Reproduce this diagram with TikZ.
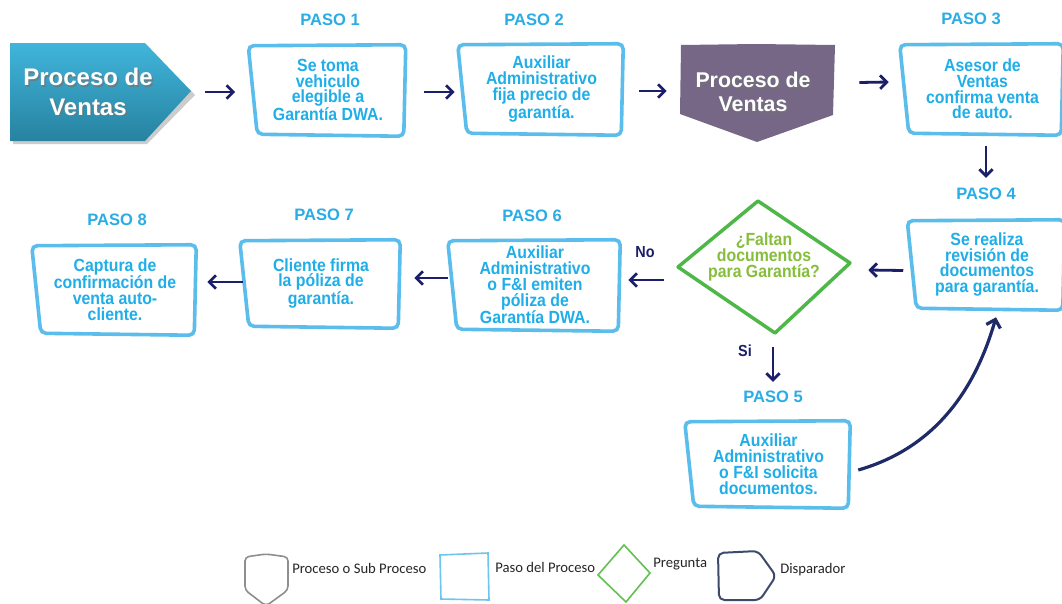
\documentclass[tikz,border=0pt]{standalone}
\usepackage{fontspec}
\setmainfont{Liberation Sans}
\newfontfamily\stepfont[FakeStretch=0.9]{Liberation Sans}
\newfontfamily\legfont{Carlito}
\usetikzlibrary{arrows.meta,calc}
\definecolor{stepline}{HTML}{5BBDEB}
\definecolor{steptext}{HTML}{1FAEE8}
\definecolor{pasotext}{HTML}{2AACE4}
\definecolor{navy}{HTML}{1B1E6B}
\definecolor{curvenavy}{HTML}{1E2B66}
\definecolor{procpurple}{HTML}{766787}
\definecolor{trigtop}{HTML}{40B5DB}
\definecolor{trigbot}{HTML}{2782A0}
\definecolor{qgreen}{HTML}{4DB848}
\definecolor{qtext}{HTML}{86BE3C}
\definecolor{leggray}{HTML}{8E8E8E}
\definecolor{legblue}{HTML}{6EC6EE}
\definecolor{leggreen}{HTML}{63C151}
\definecolor{legnavy}{HTML}{3E4B68}
\tikzset{
  stepbox/.style={inner sep=0pt, align=center, text=steptext,
    font=\stepfont\bfseries\fontsize{13.2}{11.85}\selectfont},
  sketch/.style={draw=stepline, line width=2.7pt, rounded corners=4pt},
  pasolabel/.style={text=pasotext, inner sep=0pt, font=\bfseries\fontsize{12.4}{14}\selectfont},
  flow/.style={draw=navy, line width=2.1pt, -{Straight Barb[length=5pt,width=10pt]}},
  curveflow/.style={draw=curvenavy, line width=2.4pt, -{Straight Barb[length=5.5pt,width=11pt]}},
  anchorbox/.style={inner sep=0pt, draw=none},
  bigtext/.style={text=white, align=center, inner sep=0pt},
  shadowtext/.style={text=black!55, align=center, inner sep=0pt, opacity=0.7},
  qtextstyle/.style={text=qtext, align=center, inner sep=0pt,
    font=\stepfont\bfseries\fontsize{13.2}{11.85}\selectfont},
  decision/.style={text=navy, inner sep=0pt, font=\stepfont\bfseries\fontsize{12}{14}\selectfont},
  legtext/.style={text=black!85, inner sep=0pt, anchor=west, font=\legfont\fontsize{11}{13}\selectfont},
}
\newcommand{\sketchbox}[1]{%
  \draw[sketch] ([shift={(-5,-1)}]#1.north west) -- ([shift={(3,-2)}]#1.north east)
    -- ([shift={(1,3)}]#1.south east) -- ([shift={(4,1)}]#1.south west) -- cycle;}
\begin{document}
\begin{tikzpicture}[x=0.75pt,y=-0.75pt]
\useasboundingbox (0,0) rectangle (1062,603);
\fill[white] (0,0) rectangle (1062,603);

% ---------- trigger (Disparador)
\node[anchorbox, minimum width=135.75pt, minimum height=73.5pt] (trig) at (100.5,92) {};
\fill[black!20] (13,47) -- (147,47) -- (195,95) -- (147,144) -- (13,144) -- cycle;
\shade[top color=trigtop, bottom color=trigbot] (10,43) -- (145,43) -- (191,91) -- (145,141) -- (10,141) -- cycle;
\node[shadowtext, font=\bfseries\fontsize{18}{22}\selectfont] (trigshadow) at (89.5,93.5) {Proceso de\\Ventas};
\node[bigtext, font=\bfseries\fontsize{18}{22}\selectfont] (trigtext) at (88,92) {Proceso de\\Ventas};

% ---------- PASO labels
\node[pasolabel] (p1) at (330,20) {PASO 1};
\node[pasolabel] (p2) at (534,20) {PASO 2};
\node[pasolabel] (p3) at (971,19) {PASO 3};
\node[pasolabel] (p4) at (986,194) {PASO 4};
\node[pasolabel] (p5) at (773,397) {PASO 5};
\node[pasolabel] (p6) at (532,216) {PASO 6};
\node[pasolabel] (p7) at (324,215) {PASO 7};
\node[pasolabel] (p8) at (117,220) {PASO 8};

% ---------- step boxes
\node[stepbox, minimum width=111.75pt, minimum height=64.5pt] (b1) at (328,90)
  {Se toma\\vehiculo\\elegible a\\Garantía DWA.};
\node[stepbox, minimum width=117.75pt, minimum height=64.5pt] (b2) at (541.5,89)
  {Auxiliar\\Administrativo\\fija precio de\\garantía.};
\node[stepbox, minimum width=116.25pt, minimum height=64.5pt] (b3) at (982.5,89)
  {Asesor de\\Ventas\\confirma venta\\de auto.};
\node[stepbox, minimum width=111.75pt, minimum height=63.75pt] (b4) at (987,264.5)
  {Se realiza\\revisión de\\documentos\\para garantía.};
\node[stepbox, minimum width=117.75pt, minimum height=61.5pt] (b5) at (768.5,464)
  {Auxiliar\\Administrativo\\o F\&I solicita\\documentos.};
\node[stepbox, minimum width=123pt, minimum height=64.5pt] (b6) at (535,285)
  {Auxiliar\\Administrativo\\o F\&I emiten\\póliza de\\Garantía DWA.};
\node[stepbox, minimum width=114pt, minimum height=62.25pt] (b7) at (321,283.5)
  {Cliente firma\\la póliza de\\garantía.};
\node[stepbox, minimum width=117pt, minimum height=63.75pt] (b8) at (115,289.5)
  {Captura de\\confirmación de\\venta auto-\\cliente.};
\foreach \b in {b1,b2,b3,b4,b5,b6,b7,b8} {\sketchbox{\b}}

% ---------- sub process (purple)
\node[anchorbox, minimum width=115.5pt, minimum height=72.75pt] (proc) at (758,93.5) {};
\fill[procpurple] (681,45) -- (756,44) -- (835,45) -- (833,115) -- (757,142) -- (680,114) -- cycle;
\node[shadowtext, font=\bfseries\fontsize{16}{18}\selectfont] (procshadow) at (754.5,93.5) {Proceso de\\Ventas};
\node[bigtext, font=\bfseries\fontsize{16}{18}\selectfont] (proctext) at (753,92) {Proceso de\\Ventas};

% ---------- question
\node[anchorbox, minimum width=129pt, minimum height=99pt] (q) at (764,267) {};
\draw[qgreen, line width=2.6pt, line join=round] (678,267) -- (758,201) -- (850,263) -- (775,333) -- cycle;
\node[qtextstyle] (qt) at (764,257) {¿Faltan\\documentos\\para Garantía?};
\node[decision] (no) at (645,252) {No};
\node[decision] (si) at (745,351) {Si};

% ---------- connectors
\draw[flow] ([shift={(14,0)}]trig.east) -- ([shift={(-18,2)}]b1.west);
\draw[flow] ([shift={(21,2)}]b1.east) -- ([shift={(-8,3)}]b2.west);
\draw[flow] ([shift={(19,2)}]b2.east) -- ([shift={(-14,-2.5)}]proc.west);
\draw[flow] ([shift={(24,-11)}]proc.east) -- ([shift={(-16,-7)}]b3.west);
\draw[flow] ([shift={(3.5,14)}]b3.south) -- ([shift={(0,-10)}]p4.north);
\draw[flow] ([shift={(-9,6)}]b4.west) -- ([shift={(18,3)}]q.east);
\draw[flow] ([shift={(-14,13)}]q.west) -- ([shift={(11,-5)}]b6.east);
\draw[flow] ([shift={(9,14)}]q.south) -- ([shift={(0,-9)}]p5.north);
\draw[flow] ([shift={(-5,-7)}]b6.west) -- ([shift={(17,-5.5)}]b7.east);
\draw[flow] ([shift={(-2,-1.5)}]b7.west) -- ([shift={(14,-7.5)}]b8.east);
\draw[curveflow] ([shift={(11,6)}]b5.east) .. controls (935,448) and (975,390) .. ([shift={(9,10)}]b4.south);

% ---------- legend
\draw[leggray, line width=1.2pt, rounded corners=3pt] (245,557) -- (266,554) -- (288,557) -- (288,590) -- (266,606) -- (245,590) -- cycle;
\node[legtext] (l1) at (292,568) {Proceso o Sub Proceso};
\draw[legblue, line width=1.2pt] (440,555) -- (488,553) -- (489,600) -- (441,599) -- cycle;
\node[legtext] (l2) at (495,567) {Paso del Proceso};
\draw[leggreen, line width=1.2pt] (598,575) -- (624,545) -- (650,573) -- (626,602) -- cycle;
\node[legtext] (l3) at (653,564) {Pregunta};
\draw[legnavy, line width=1.5pt, rounded corners=4pt] (718,553) -- (758,551) -- (776,576) -- (760,600) -- (719,600) -- cycle;
\node[legtext] (l4) at (780,570) {Disparador};
\end{tikzpicture}
\end{document}
